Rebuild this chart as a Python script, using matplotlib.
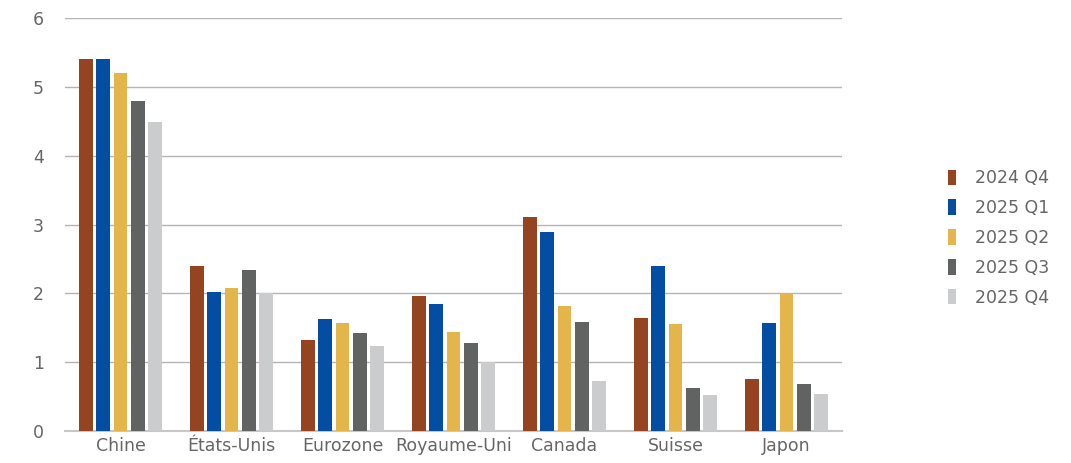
import matplotlib
matplotlib.use("Agg")
import matplotlib.pyplot as plt
import numpy as np

categories = ["Chine", "États-Unis", "Eurozone", "Royaume-Uni", "Canada", "Suisse", "Japon"]
series_names = ["2024 Q4", "2025 Q1", "2025 Q2", "2025 Q3", "2025 Q4"]
v_2024q4 = [5.40, 2.40, 1.32, 1.96, 3.11, 1.64, 0.76]
v_2025q1 = [5.40, 2.02, 1.63, 1.85, 2.89, 2.40, 1.57]
v_2025q2 = [5.20, 2.08, 1.57, 1.44, 1.82, 1.55, 2.00]
v_2025q3 = [4.79, 2.34, 1.42, 1.28, 1.58, 0.62, 0.68]
v_2025q4 = [4.49, 2.00, 1.23, 1.00, 0.73, 0.52, 0.54]
series = [v_2024q4, v_2025q1, v_2025q2, v_2025q3, v_2025q4]
colors = ["#954421", "#034EA2", "#E3B54B", "#616262", "#CBCCCE"]

plt.rcParams['font.family'] = ['DejaVu Sans']
fig = plt.figure(figsize=(10.71, 4.63), dpi=100)
ax = fig.add_axes([65/1071, 1-431/463, 777/1071, 413/463])

x = np.arange(len(categories))
step = 0.154
width = 0.126
for i, (vals, col, name) in enumerate(zip(series, colors, series_names)):
    ax.bar(x + (i - 2) * step, vals, width=width, color=col, label=name, zorder=3)

ax.set_xlim(-0.5, len(categories) - 0.5)
ax.set_ylim(0, 6)
ax.set_yticks(range(0, 7))
ax.yaxis.grid(True, color="#B8B3B3", linewidth=1, zorder=0)
ax.set_axisbelow(True)
for s in ["left", "right", "top"]:
    ax.spines[s].set_visible(False)
ax.spines["bottom"].set_color("#C9C6C6")
ax.spines["bottom"].set_linewidth(1.5)
ax.set_xticks(x)
ax.set_xticklabels(categories)
ax.tick_params(axis="both", length=0, labelsize=12.5, colors="#666666")
ax.tick_params(axis="y", pad=15)
ax.tick_params(axis="x", pad=4)

handles, labels = ax.get_legend_handles_labels()
leg = fig.legend(handles, labels, loc="center left", bbox_to_anchor=(932/1071, 1-238/463),
                 frameon=False, fontsize=12.5, handlelength=0.5, handleheight=1.0,
                 handletextpad=1.1, labelspacing=0.68)
for t in leg.get_texts():
    t.set_color("#666666")

fig.savefig("out.png", dpi=100)
